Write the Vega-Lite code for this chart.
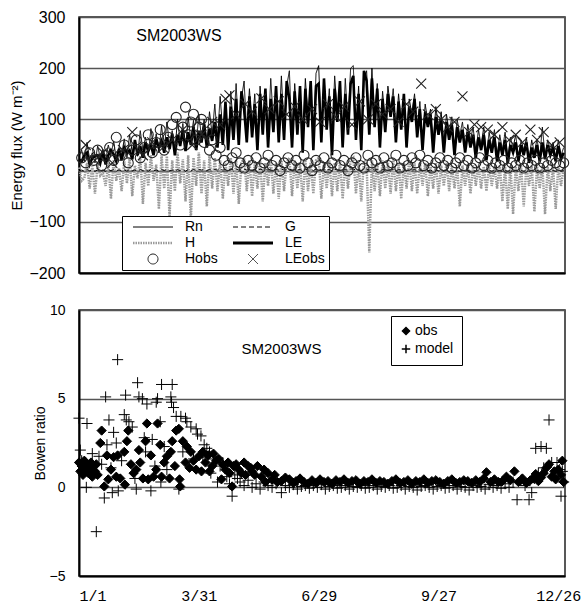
{
  "$schema": "https://vega.github.io/schema/vega-lite/v6.json",
  "padding": {"left": 9, "top": 8, "right": 5, "bottom": 5},
  "background": "white",
  "config": {
    "view": {"stroke": "#222", "strokeWidth": 1.5},
    "axis": {"labelFont": "Liberation Sans", "titleFont": "Liberation Sans", "labelColor": "black", "titleColor": "black", "domainColor": "black", "tickColor": "black", "titleFontWeight": "normal"},
    "legend": {"labelFont": "Liberation Sans", "labelColor": "black"}
  },
  "datasets": {
    "flux": [
      {"d":0,"Rn":28,"LE":22,"H":6,"G":0},{"d":2,"Rn":40,"LE":18,"H":-20,"G":1},{"d":4,"Rn":18,"LE":30,"H":-15,"G":-1},{"d":6,"Rn":55,"LE":35,"H":15,"G":2},
      {"d":8,"Rn":22,"LE":12,"H":-35,"G":0},{"d":10,"Rn":35,"LE":25,"H":8,"G":1},{"d":12,"Rn":15,"LE":28,"H":-45,"G":-1},{"d":14,"Rn":48,"LE":30,"H":12,"G":1},
      {"d":16,"Rn":25,"LE":15,"H":-10,"G":0},{"d":18,"Rn":42,"LE":38,"H":-5,"G":1},{"d":20,"Rn":20,"LE":12,"H":-30,"G":-1},{"d":22,"Rn":50,"LE":30,"H":15,"G":1},
      {"d":24,"Rn":30,"LE":40,"H":-55,"G":0},{"d":26,"Rn":58,"LE":32,"H":20,"G":2},{"d":28,"Rn":22,"LE":18,"H":-20,"G":-1},{"d":30,"Rn":45,"LE":42,"H":5,"G":1},
      {"d":32,"Rn":30,"LE":20,"H":-40,"G":0},{"d":34,"Rn":62,"LE":45,"H":18,"G":1},{"d":36,"Rn":25,"LE":35,"H":-25,"G":-1},{"d":38,"Rn":70,"LE":40,"H":25,"G":2},
      {"d":40,"Rn":35,"LE":22,"H":-50,"G":0},{"d":42,"Rn":55,"LE":60,"H":10,"G":1},{"d":44,"Rn":28,"LE":30,"H":-15,"G":-1},{"d":46,"Rn":78,"LE":48,"H":28,"G":2},
      {"d":48,"Rn":40,"LE":25,"H":-65,"G":0},{"d":50,"Rn":65,"LE":55,"H":15,"G":1},{"d":52,"Rn":30,"LE":38,"H":-30,"G":-1},{"d":54,"Rn":82,"LE":50,"H":30,"G":2},
      {"d":56,"Rn":45,"LE":30,"H":-20,"G":0},{"d":58,"Rn":72,"LE":62,"H":12,"G":1},{"d":60,"Rn":35,"LE":45,"H":-75,"G":-1},{"d":62,"Rn":88,"LE":58,"H":30,"G":2},
      {"d":64,"Rn":40,"LE":35,"H":-35,"G":0},{"d":66,"Rn":95,"LE":65,"H":28,"G":2},{"d":68,"Rn":50,"LE":42,"H":-90,"G":0},{"d":70,"Rn":78,"LE":72,"H":20,"G":1},
      {"d":72,"Rn":38,"LE":30,"H":-40,"G":-1},{"d":74,"Rn":100,"LE":70,"H":35,"G":2},{"d":76,"Rn":55,"LE":48,"H":-25,"G":0},{"d":78,"Rn":92,"LE":80,"H":22,"G":1},
      {"d":80,"Rn":45,"LE":38,"H":-60,"G":-1},{"d":82,"Rn":105,"LE":75,"H":30,"G":2},{"d":84,"Rn":60,"LE":50,"H":-95,"G":0},{"d":86,"Rn":98,"LE":85,"H":25,"G":2},
      {"d":88,"Rn":50,"LE":40,"H":-30,"G":0},{"d":90,"Rn":110,"LE":78,"H":35,"G":2},{"d":92,"Rn":65,"LE":55,"H":-45,"G":1},{"d":94,"Rn":100,"LE":90,"H":20,"G":2},
      {"d":96,"Rn":55,"LE":45,"H":-70,"G":0},{"d":98,"Rn":115,"LE":82,"H":30,"G":2},{"d":100,"Rn":70,"LE":58,"H":-35,"G":1},{"d":102,"Rn":130,"LE":95,"H":25,"G":2},
      {"d":104,"Rn":60,"LE":45,"H":-40,"G":1},{"d":106,"Rn":145,"LE":110,"H":20,"G":3},{"d":108,"Rn":75,"LE":50,"H":-55,"G":1},{"d":110,"Rn":120,"LE":135,"H":15,"G":2},
      {"d":112,"Rn":50,"LE":40,"H":-30,"G":0},{"d":114,"Rn":155,"LE":125,"H":25,"G":3},{"d":116,"Rn":80,"LE":60,"H":-45,"G":1},{"d":118,"Rn":170,"LE":140,"H":20,"G":3},
      {"d":120,"Rn":65,"LE":50,"H":-65,"G":1},{"d":122,"Rn":140,"LE":155,"H":15,"G":2},{"d":124,"Rn":175,"LE":120,"H":25,"G":3},{"d":126,"Rn":70,"LE":55,"H":-40,"G":1},
      {"d":128,"Rn":160,"LE":145,"H":20,"G":3},{"d":130,"Rn":85,"LE":65,"H":-50,"G":1},{"d":132,"Rn":150,"LE":130,"H":15,"G":2},{"d":134,"Rn":55,"LE":40,"H":-35,"G":0},
      {"d":136,"Rn":165,"LE":150,"H":20,"G":3},{"d":138,"Rn":90,"LE":70,"H":-60,"G":1},{"d":140,"Rn":145,"LE":160,"H":15,"G":2},{"d":142,"Rn":60,"LE":45,"H":-30,"G":1},
      {"d":144,"Rn":180,"LE":140,"H":25,"G":3},{"d":146,"Rn":95,"LE":75,"H":-45,"G":1},{"d":148,"Rn":155,"LE":165,"H":15,"G":2},{"d":150,"Rn":70,"LE":55,"H":-55,"G":1},
      {"d":152,"Rn":185,"LE":150,"H":20,"G":3},{"d":154,"Rn":80,"LE":60,"H":-40,"G":1},{"d":156,"Rn":165,"LE":175,"H":15,"G":2},{"d":158,"Rn":195,"LE":140,"H":25,"G":3},
      {"d":160,"Rn":60,"LE":45,"H":-50,"G":1},{"d":162,"Rn":170,"LE":155,"H":20,"G":2},{"d":164,"Rn":90,"LE":70,"H":-35,"G":1},{"d":166,"Rn":150,"LE":165,"H":15,"G":2},
      {"d":168,"Rn":45,"LE":35,"H":-60,"G":0},{"d":170,"Rn":180,"LE":160,"H":20,"G":3},{"d":172,"Rn":100,"LE":85,"H":-40,"G":1},{"d":174,"Rn":160,"LE":175,"H":15,"G":2},
      {"d":176,"Rn":55,"LE":40,"H":-45,"G":0},{"d":178,"Rn":190,"LE":165,"H":20,"G":3},{"d":180,"Rn":205,"LE":170,"H":25,"G":3},{"d":182,"Rn":70,"LE":55,"H":-55,"G":1},
      {"d":184,"Rn":175,"LE":180,"H":15,"G":2},{"d":186,"Rn":95,"LE":80,"H":-35,"G":1},{"d":188,"Rn":160,"LE":145,"H":20,"G":2},{"d":190,"Rn":40,"LE":30,"H":-50,"G":0},
      {"d":192,"Rn":185,"LE":160,"H":15,"G":3},{"d":194,"Rn":110,"LE":95,"H":-40,"G":1},{"d":196,"Rn":170,"LE":175,"H":20,"G":2},{"d":198,"Rn":60,"LE":45,"H":-55,"G":1},
      {"d":200,"Rn":180,"LE":150,"H":15,"G":2},{"d":202,"Rn":90,"LE":70,"H":-35,"G":1},{"d":204,"Rn":200,"LE":170,"H":20,"G":3},{"d":206,"Rn":205,"LE":185,"H":25,"G":3},
      {"d":208,"Rn":75,"LE":60,"H":-45,"G":1},{"d":210,"Rn":165,"LE":150,"H":15,"G":2},{"d":212,"Rn":50,"LE":40,"H":-60,"G":0},{"d":214,"Rn":180,"LE":195,"H":20,"G":2},
      {"d":216,"Rn":195,"LE":175,"H":15,"G":3},{"d":218,"Rn":85,"LE":70,"H":-160,"G":1},{"d":220,"Rn":200,"LE":180,"H":20,"G":3},{"d":222,"Rn":100,"LE":85,"H":-40,"G":1},
      {"d":224,"Rn":170,"LE":160,"H":15,"G":2},{"d":226,"Rn":60,"LE":45,"H":-50,"G":0},{"d":228,"Rn":155,"LE":140,"H":20,"G":2},{"d":230,"Rn":90,"LE":75,"H":-35,"G":1},
      {"d":232,"Rn":165,"LE":150,"H":15,"G":2},{"d":234,"Rn":120,"LE":105,"H":-45,"G":1},{"d":236,"Rn":160,"LE":145,"H":20,"G":2},{"d":238,"Rn":70,"LE":55,"H":-40,"G":0},
      {"d":240,"Rn":150,"LE":135,"H":15,"G":2},{"d":242,"Rn":95,"LE":80,"H":-55,"G":1},{"d":244,"Rn":145,"LE":150,"H":15,"G":2},{"d":246,"Rn":60,"LE":45,"H":-35,"G":0},
      {"d":248,"Rn":140,"LE":125,"H":20,"G":2},{"d":250,"Rn":110,"LE":95,"H":-40,"G":1},{"d":252,"Rn":150,"LE":140,"H":15,"G":2},{"d":254,"Rn":80,"LE":65,"H":-45,"G":0},
      {"d":256,"Rn":135,"LE":120,"H":15,"G":1},{"d":258,"Rn":55,"LE":40,"H":-30,"G":0},{"d":260,"Rn":130,"LE":115,"H":15,"G":1},{"d":262,"Rn":95,"LE":85,"H":-50,"G":0},
      {"d":264,"Rn":120,"LE":110,"H":10,"G":1},{"d":266,"Rn":50,"LE":35,"H":-35,"G":-1},{"d":268,"Rn":125,"LE":105,"H":15,"G":1},{"d":270,"Rn":85,"LE":70,"H":-45,"G":0},
      {"d":272,"Rn":115,"LE":100,"H":10,"G":1},{"d":274,"Rn":45,"LE":35,"H":-30,"G":-1},{"d":276,"Rn":110,"LE":95,"H":15,"G":1},{"d":278,"Rn":75,"LE":60,"H":-40,"G":0},
      {"d":280,"Rn":105,"LE":90,"H":10,"G":0},{"d":282,"Rn":40,"LE":30,"H":-35,"G":-1},{"d":284,"Rn":100,"LE":85,"H":10,"G":0},{"d":286,"Rn":70,"LE":55,"H":-70,"G":-1},
      {"d":288,"Rn":95,"LE":80,"H":10,"G":0},{"d":290,"Rn":45,"LE":35,"H":-30,"G":-1},{"d":292,"Rn":90,"LE":75,"H":10,"G":0},{"d":294,"Rn":60,"LE":45,"H":-45,"G":-1},
      {"d":296,"Rn":85,"LE":70,"H":10,"G":0},{"d":298,"Rn":35,"LE":25,"H":-30,"G":-1},{"d":300,"Rn":80,"LE":65,"H":10,"G":0},{"d":302,"Rn":50,"LE":40,"H":-35,"G":-1},
      {"d":304,"Rn":85,"LE":70,"H":8,"G":0},{"d":306,"Rn":30,"LE":20,"H":-40,"G":-1},{"d":308,"Rn":75,"LE":60,"H":10,"G":0},{"d":310,"Rn":45,"LE":35,"H":-30,"G":-1},
      {"d":312,"Rn":80,"LE":65,"H":8,"G":0},{"d":314,"Rn":25,"LE":18,"H":-35,"G":-1},{"d":316,"Rn":70,"LE":55,"H":10,"G":0},{"d":318,"Rn":40,"LE":30,"H":-60,"G":-1},
      {"d":320,"Rn":75,"LE":60,"H":8,"G":0},{"d":322,"Rn":20,"LE":15,"H":-75,"G":-1},{"d":324,"Rn":65,"LE":50,"H":10,"G":0},{"d":326,"Rn":45,"LE":35,"H":-85,"G":-1},
      {"d":328,"Rn":70,"LE":55,"H":8,"G":0},{"d":330,"Rn":25,"LE":18,"H":-40,"G":-1},{"d":332,"Rn":60,"LE":50,"H":10,"G":0},{"d":334,"Rn":40,"LE":30,"H":-70,"G":-1},
      {"d":336,"Rn":65,"LE":55,"H":8,"G":0},{"d":338,"Rn":20,"LE":15,"H":-30,"G":-1},{"d":340,"Rn":60,"LE":45,"H":10,"G":0},{"d":342,"Rn":35,"LE":25,"H":-80,"G":-1},
      {"d":344,"Rn":62,"LE":50,"H":8,"G":0},{"d":346,"Rn":25,"LE":18,"H":-35,"G":-1},{"d":348,"Rn":85,"LE":55,"H":10,"G":0},{"d":350,"Rn":30,"LE":22,"H":-85,"G":-1},
      {"d":352,"Rn":60,"LE":50,"H":8,"G":0},{"d":354,"Rn":40,"LE":30,"H":-40,"G":-1},{"d":356,"Rn":55,"LE":45,"H":8,"G":0},{"d":358,"Rn":25,"LE":18,"H":-75,"G":-1},
      {"d":360,"Rn":60,"LE":48,"H":10,"G":0},{"d":362,"Rn":30,"LE":22,"H":-30,"G":-1},{"d":364,"Rn":45,"LE":35,"H":5,"G":0}
    ],
    "fobs": [
      {"d":2,"v":25,"series":"Hobs"},{"d":5,"v":15,"series":"Hobs"},{"d":8,"v":35,"series":"Hobs"},{"d":11,"v":20,"series":"Hobs"},{"d":14,"v":40,"series":"Hobs"},{"d":17,"v":10,"series":"Hobs"},
      {"d":20,"v":30,"series":"Hobs"},{"d":23,"v":45,"series":"Hobs"},{"d":26,"v":20,"series":"Hobs"},{"d":28,"v":65,"series":"Hobs"},{"d":31,"v":30,"series":"Hobs"},{"d":34,"v":50,"series":"Hobs"},
      {"d":37,"v":15,"series":"Hobs"},{"d":40,"v":40,"series":"Hobs"},{"d":43,"v":60,"series":"Hobs"},{"d":46,"v":25,"series":"Hobs"},{"d":49,"v":45,"series":"Hobs"},{"d":52,"v":70,"series":"Hobs"},
      {"d":55,"v":35,"series":"Hobs"},{"d":58,"v":55,"series":"Hobs"},{"d":61,"v":80,"series":"Hobs"},{"d":64,"v":40,"series":"Hobs"},{"d":67,"v":65,"series":"Hobs"},{"d":70,"v":90,"series":"Hobs"},
      {"d":73,"v":104,"series":"Hobs"},{"d":76,"v":50,"series":"Hobs"},{"d":78,"v":85,"series":"Hobs"},{"d":80,"v":124,"series":"Hobs"},{"d":82,"v":70,"series":"Hobs"},{"d":84,"v":95,"series":"Hobs"},
      {"d":86,"v":110,"series":"Hobs"},{"d":88,"v":60,"series":"Hobs"},{"d":90,"v":85,"series":"Hobs"},{"d":92,"v":100,"series":"Hobs"},{"d":94,"v":55,"series":"Hobs"},{"d":96,"v":75,"series":"Hobs"},
      {"d":98,"v":40,"series":"Hobs"},{"d":100,"v":60,"series":"Hobs"},{"d":103,"v":30,"series":"Hobs"},{"d":106,"v":45,"series":"Hobs"},{"d":109,"v":20,"series":"Hobs"},{"d":112,"v":10,"series":"Hobs"},
      {"d":115,"v":25,"series":"Hobs"},{"d":118,"v":35,"series":"Hobs"},{"d":121,"v":15,"series":"Hobs"},{"d":124,"v":5,"series":"Hobs"},{"d":127,"v":20,"series":"Hobs"},{"d":130,"v":10,"series":"Hobs"},
      {"d":133,"v":25,"series":"Hobs"},{"d":136,"v":5,"series":"Hobs"},{"d":139,"v":15,"series":"Hobs"},{"d":142,"v":30,"series":"Hobs"},{"d":145,"v":10,"series":"Hobs"},{"d":148,"v":20,"series":"Hobs"},
      {"d":151,"v":0,"series":"Hobs"},{"d":154,"v":15,"series":"Hobs"},{"d":157,"v":25,"series":"Hobs"},{"d":160,"v":10,"series":"Hobs"},{"d":163,"v":20,"series":"Hobs"},{"d":166,"v":5,"series":"Hobs"},
      {"d":169,"v":30,"series":"Hobs"},{"d":172,"v":15,"series":"Hobs"},{"d":175,"v":0,"series":"Hobs"},{"d":178,"v":20,"series":"Hobs"},{"d":181,"v":10,"series":"Hobs"},{"d":184,"v":25,"series":"Hobs"},
      {"d":187,"v":5,"series":"Hobs"},{"d":190,"v":15,"series":"Hobs"},{"d":193,"v":30,"series":"Hobs"},{"d":196,"v":10,"series":"Hobs"},{"d":199,"v":20,"series":"Hobs"},{"d":202,"v":0,"series":"Hobs"},
      {"d":205,"v":15,"series":"Hobs"},{"d":208,"v":25,"series":"Hobs"},{"d":211,"v":10,"series":"Hobs"},{"d":214,"v":5,"series":"Hobs"},{"d":217,"v":30,"series":"Hobs"},{"d":220,"v":15,"series":"Hobs"},
      {"d":223,"v":20,"series":"Hobs"},{"d":226,"v":5,"series":"Hobs"},{"d":229,"v":25,"series":"Hobs"},{"d":232,"v":10,"series":"Hobs"},{"d":235,"v":15,"series":"Hobs"},{"d":238,"v":30,"series":"Hobs"},
      {"d":241,"v":5,"series":"Hobs"},{"d":244,"v":20,"series":"Hobs"},{"d":247,"v":10,"series":"Hobs"},{"d":250,"v":25,"series":"Hobs"},{"d":253,"v":15,"series":"Hobs"},{"d":256,"v":30,"series":"Hobs"},
      {"d":259,"v":10,"series":"Hobs"},{"d":262,"v":20,"series":"Hobs"},{"d":265,"v":5,"series":"Hobs"},{"d":268,"v":15,"series":"Hobs"},{"d":271,"v":25,"series":"Hobs"},{"d":274,"v":10,"series":"Hobs"},
      {"d":277,"v":20,"series":"Hobs"},{"d":280,"v":5,"series":"Hobs"},{"d":283,"v":15,"series":"Hobs"},{"d":286,"v":25,"series":"Hobs"},{"d":289,"v":10,"series":"Hobs"},{"d":292,"v":20,"series":"Hobs"},
      {"d":295,"v":5,"series":"Hobs"},{"d":298,"v":15,"series":"Hobs"},{"d":301,"v":25,"series":"Hobs"},{"d":304,"v":10,"series":"Hobs"},{"d":307,"v":20,"series":"Hobs"},{"d":310,"v":5,"series":"Hobs"},
      {"d":313,"v":15,"series":"Hobs"},{"d":316,"v":10,"series":"Hobs"},{"d":319,"v":20,"series":"Hobs"},{"d":322,"v":5,"series":"Hobs"},{"d":325,"v":15,"series":"Hobs"},{"d":328,"v":10,"series":"Hobs"},
      {"d":331,"v":20,"series":"Hobs"},{"d":334,"v":5,"series":"Hobs"},{"d":337,"v":15,"series":"Hobs"},{"d":340,"v":10,"series":"Hobs"},{"d":343,"v":20,"series":"Hobs"},{"d":346,"v":5,"series":"Hobs"},
      {"d":349,"v":15,"series":"Hobs"},{"d":352,"v":10,"series":"Hobs"},{"d":355,"v":20,"series":"Hobs"},{"d":358,"v":15,"series":"Hobs"},{"d":361,"v":10,"series":"Hobs"},{"d":364,"v":15,"series":"Hobs"},
      {"d":5,"v":50,"series":"LEobs"},{"d":12,"v":20,"series":"LEobs"},{"d":18,"v":35,"series":"LEobs"},{"d":25,"v":15,"series":"LEobs"},{"d":33,"v":40,"series":"LEobs"},{"d":40,"v":75,"series":"LEobs"},
      {"d":48,"v":30,"series":"LEobs"},{"d":55,"v":55,"series":"LEobs"},{"d":63,"v":45,"series":"LEobs"},{"d":70,"v":60,"series":"LEobs"},{"d":78,"v":80,"series":"LEobs"},{"d":85,"v":50,"series":"LEobs"},
      {"d":92,"v":70,"series":"LEobs"},{"d":100,"v":95,"series":"LEobs"},{"d":106,"v":90,"series":"LEobs"},{"d":110,"v":140,"series":"LEobs"},{"d":113,"v":147,"series":"LEobs"},{"d":118,"v":110,"series":"LEobs"},
      {"d":125,"v":130,"series":"LEobs"},{"d":130,"v":115,"series":"LEobs"},{"d":137,"v":141,"series":"LEobs"},{"d":143,"v":120,"series":"LEobs"},{"d":150,"v":135,"series":"LEobs"},{"d":156,"v":110,"series":"LEobs"},
      {"d":162,"v":125,"series":"LEobs"},{"d":168,"v":100,"series":"LEobs"},{"d":175,"v":120,"series":"LEobs"},{"d":181,"v":95,"series":"LEobs"},{"d":187,"v":130,"series":"LEobs"},{"d":193,"v":105,"series":"LEobs"},
      {"d":199,"v":125,"series":"LEobs"},{"d":205,"v":90,"series":"LEobs"},{"d":211,"v":135,"series":"LEobs"},{"d":217,"v":100,"series":"LEobs"},{"d":223,"v":130,"series":"LEobs"},{"d":228,"v":110,"series":"LEobs"},
      {"d":234,"v":120,"series":"LEobs"},{"d":240,"v":95,"series":"LEobs"},{"d":246,"v":130,"series":"LEobs"},{"d":251,"v":115,"series":"LEobs"},{"d":257,"v":170,"series":"LEobs"},{"d":262,"v":110,"series":"LEobs"},
      {"d":268,"v":120,"series":"LEobs"},{"d":272,"v":100,"series":"LEobs"},{"d":277,"v":85,"series":"LEobs"},{"d":282,"v":95,"series":"LEobs"},{"d":288,"v":145,"series":"LEobs"},{"d":293,"v":75,"series":"LEobs"},
      {"d":297,"v":90,"series":"LEobs"},{"d":302,"v":85,"series":"LEobs"},{"d":307,"v":80,"series":"LEobs"},{"d":312,"v":70,"series":"LEobs"},{"d":318,"v":85,"series":"LEobs"},{"d":323,"v":60,"series":"LEobs"},
      {"d":328,"v":70,"series":"LEobs"},{"d":333,"v":55,"series":"LEobs"},{"d":339,"v":80,"series":"LEobs"},{"d":344,"v":60,"series":"LEobs"},{"d":349,"v":75,"series":"LEobs"},{"d":355,"v":50,"series":"LEobs"},
      {"d":361,"v":55,"series":"LEobs"}
    ],
    "bowen": [
      {"d":0,"v":1.4,"t":"obs"},{"d":1,"v":0.9,"t":"obs"},{"d":2,"v":1.2,"t":"obs"},{"d":3,"v":0.7,"t":"obs"},{"d":4,"v":1.5,"t":"obs"},{"d":5,"v":1.0,"t":"obs"},
      {"d":6,"v":1.3,"t":"obs"},{"d":7,"v":0.8,"t":"obs"},{"d":8,"v":1.1,"t":"obs"},{"d":9,"v":1.4,"t":"obs"},{"d":10,"v":0.6,"t":"obs"},{"d":11,"v":1.2,"t":"obs"},
      {"d":12,"v":0.9,"t":"obs"},{"d":13,"v":1.3,"t":"obs"},{"d":14,"v":0.7,"t":"obs"},{"d":16,"v":2.5,"t":"obs"},{"d":17,"v":3.2,"t":"obs"},{"d":19,"v":0.05,"t":"obs"},
      {"d":21,"v":1.8,"t":"obs"},{"d":22,"v":0.45,"t":"obs"},{"d":24,"v":1.0,"t":"obs"},{"d":26,"v":1.7,"t":"obs"},{"d":28,"v":0.6,"t":"obs"},{"d":29,"v":1.8,"t":"obs"},
      {"d":31,"v":0.5,"t":"obs"},{"d":34,"v":2.0,"t":"obs"},{"d":34.5,"v":0.15,"t":"obs"},{"d":36,"v":2.6,"t":"obs"},{"d":37,"v":3.2,"t":"obs"},{"d":39,"v":1.3,"t":"obs"},
      {"d":41,"v":0.8,"t":"obs"},{"d":43,"v":1.0,"t":"obs"},{"d":45,"v":2.1,"t":"obs"},{"d":46,"v":1.4,"t":"obs"},{"d":48,"v":0.5,"t":"obs"},{"d":50,"v":2.6,"t":"obs"},
      {"d":51,"v":3.6,"t":"obs"},{"d":52,"v":0.45,"t":"obs"},{"d":54,"v":1.8,"t":"obs"},{"d":56,"v":0.6,"t":"obs"},{"d":58,"v":1.0,"t":"obs"},{"d":59,"v":3.6,"t":"obs"},
      {"d":61,"v":2.4,"t":"obs"},{"d":62,"v":0.6,"t":"obs"},{"d":64,"v":1.4,"t":"obs"},{"d":66,"v":1.75,"t":"obs"},{"d":68,"v":0.5,"t":"obs"},{"d":69,"v":2.0,"t":"obs"},
      {"d":70,"v":2.6,"t":"obs"},{"d":72,"v":1.2,"t":"obs"},{"d":73,"v":3.2,"t":"obs"},{"d":75,"v":3.3,"t":"obs"},{"d":75.5,"v":0.45,"t":"obs"},{"d":76,"v":0.05,"t":"obs"},
      {"d":78,"v":2.6,"t":"obs"},{"d":80,"v":1.4,"t":"obs"},{"d":81,"v":2.3,"t":"obs"},{"d":83,"v":1.1,"t":"obs"},{"d":84,"v":2.0,"t":"obs"},{"d":86,"v":1.5,"t":"obs"},
      {"d":88,"v":1.0,"t":"obs"},{"d":90,"v":1.75,"t":"obs"},{"d":92,"v":0.9,"t":"obs"},{"d":93,"v":2.0,"t":"obs"},{"d":95,"v":1.4,"t":"obs"},{"d":97,"v":1.8,"t":"obs"},
      {"d":98,"v":0.9,"t":"obs"},{"d":100,"v":1.2,"t":"obs"},{"d":101,"v":1.9,"t":"obs"},{"d":103,"v":1.5,"t":"obs"},{"d":105,"v":1.6,"t":"obs"},{"d":107,"v":0.45,"t":"obs"},
      {"d":108,"v":1.3,"t":"obs"},{"d":110,"v":1.0,"t":"obs"},{"d":112,"v":1.4,"t":"obs"},{"d":113,"v":0.8,"t":"obs"},{"d":115,"v":0.05,"t":"obs"},{"d":116,"v":1.2,"t":"obs"},
      {"d":118,"v":1.3,"t":"obs"},{"d":120,"v":1.0,"t":"obs"},{"d":122,"v":0.8,"t":"obs"},{"d":124,"v":1.4,"t":"obs"},{"d":125,"v":0.7,"t":"obs"},{"d":127,"v":1.2,"t":"obs"},
      {"d":129,"v":1.1,"t":"obs"},{"d":130,"v":0.9,"t":"obs"},{"d":132,"v":0.7,"t":"obs"},{"d":134,"v":1.2,"t":"obs"},{"d":137,"v":0.6,"t":"obs"},{"d":139,"v":1.0,"t":"obs"},
      {"d":140,"v":0.3,"t":"obs"},{"d":142,"v":0.8,"t":"obs"},{"d":145,"v":0.45,"t":"obs"},{"d":147,"v":0.7,"t":"obs"},{"d":149,"v":0.3,"t":"obs"},{"d":152,"v":0.35,"t":"obs"},
      {"d":155,"v":0.55,"t":"obs"},{"d":158,"v":0.45,"t":"obs"},{"d":161,"v":0.25,"t":"obs"},{"d":163,"v":0.35,"t":"obs"},{"d":166,"v":0.5,"t":"obs"},{"d":169,"v":0.3,"t":"obs"},
      {"d":172,"v":0.2,"t":"obs"},{"d":175,"v":0.4,"t":"obs"},{"d":178,"v":0.25,"t":"obs"},{"d":181,"v":0.45,"t":"obs"},{"d":184,"v":0.3,"t":"obs"},{"d":187,"v":0.35,"t":"obs"},
      {"d":190,"v":0.2,"t":"obs"},{"d":193,"v":0.4,"t":"obs"},{"d":196,"v":0.3,"t":"obs"},{"d":199,"v":0.45,"t":"obs"},{"d":202,"v":0.25,"t":"obs"},{"d":205,"v":0.35,"t":"obs"},
      {"d":208,"v":0.4,"t":"obs"},{"d":211,"v":0.2,"t":"obs"},{"d":214,"v":0.35,"t":"obs"},{"d":217,"v":0.3,"t":"obs"},{"d":220,"v":0.45,"t":"obs"},{"d":223,"v":0.25,"t":"obs"},
      {"d":226,"v":0.35,"t":"obs"},{"d":229,"v":0.3,"t":"obs"},{"d":232,"v":0.2,"t":"obs"},{"d":235,"v":0.35,"t":"obs"},{"d":238,"v":0.45,"t":"obs"},{"d":241,"v":0.25,"t":"obs"},
      {"d":244,"v":0.3,"t":"obs"},{"d":247,"v":0.4,"t":"obs"},{"d":250,"v":0.2,"t":"obs"},{"d":253,"v":0.35,"t":"obs"},{"d":256,"v":0.3,"t":"obs"},{"d":259,"v":0.45,"t":"obs"},
      {"d":262,"v":0.25,"t":"obs"},{"d":265,"v":0.35,"t":"obs"},{"d":268,"v":0.4,"t":"obs"},{"d":271,"v":0.3,"t":"obs"},{"d":274,"v":0.2,"t":"obs"},{"d":277,"v":0.35,"t":"obs"},
      {"d":280,"v":0.45,"t":"obs"},{"d":283,"v":0.25,"t":"obs"},{"d":286,"v":0.3,"t":"obs"},{"d":289,"v":0.4,"t":"obs"},{"d":292,"v":0.35,"t":"obs"},{"d":295,"v":0.25,"t":"obs"},
      {"d":298,"v":0.4,"t":"obs"},{"d":301,"v":0.3,"t":"obs"},{"d":304,"v":0.5,"t":"obs"},{"d":306,"v":0.85,"t":"obs"},{"d":309,"v":0.3,"t":"obs"},{"d":312,"v":0.45,"t":"obs"},
      {"d":315,"v":0.3,"t":"obs"},{"d":318,"v":0.35,"t":"obs"},{"d":321,"v":0.6,"t":"obs"},{"d":324,"v":0.4,"t":"obs"},{"d":327,"v":0.9,"t":"obs"},{"d":330,"v":0.3,"t":"obs"},
      {"d":333,"v":0.5,"t":"obs"},{"d":336,"v":0.25,"t":"obs"},{"d":339,"v":0.4,"t":"obs"},{"d":341,"v":0.5,"t":"obs"},{"d":343,"v":0.75,"t":"obs"},{"d":345,"v":0.35,"t":"obs"},
      {"d":347,"v":0.55,"t":"obs"},{"d":349,"v":0.8,"t":"obs"},{"d":351,"v":1.1,"t":"obs"},{"d":353,"v":1.3,"t":"obs"},{"d":355,"v":0.6,"t":"obs"},{"d":357,"v":0.9,"t":"obs"},
      {"d":358,"v":0.45,"t":"obs"},{"d":360,"v":1.0,"t":"obs"},{"d":362,"v":0.7,"t":"obs"},{"d":363,"v":1.5,"t":"obs"},{"d":364,"v":0.3,"t":"obs"},
      {"d":0,"v":3.9,"t":"model"},{"d":1,"v":2.1,"t":"model"},{"d":2,"v":1.5,"t":"model"},{"d":3,"v":0.8,"t":"model"},{"d":5,"v":1.4,"t":"model"},{"d":5.5,"v":0,"t":"model"},
      {"d":6,"v":3.6,"t":"model"},{"d":8,"v":1.0,"t":"model"},{"d":10,"v":1.9,"t":"model"},{"d":13,"v":-2.5,"t":"model"},{"d":15,"v":1.75,"t":"model"},{"d":17,"v":1.3,"t":"model"},
      {"d":19,"v":-0.6,"t":"model"},{"d":20,"v":5.1,"t":"model"},{"d":21,"v":2.4,"t":"model"},{"d":22.5,"v":3.8,"t":"model"},{"d":24,"v":1.1,"t":"model"},{"d":25,"v":-0.3,"t":"model"},
      {"d":26,"v":3.1,"t":"model"},{"d":28,"v":2.5,"t":"model"},{"d":29,"v":7.2,"t":"model"},{"d":29.5,"v":-0.2,"t":"model"},{"d":32,"v":1.5,"t":"model"},{"d":34,"v":4.1,"t":"model"},
      {"d":35,"v":5.2,"t":"model"},{"d":35.5,"v":3.8,"t":"model"},{"d":37.5,"v":3.7,"t":"model"},{"d":40,"v":3.4,"t":"model"},{"d":42,"v":0.5,"t":"model"},{"d":43,"v":-0.1,"t":"model"},
      {"d":44,"v":5.9,"t":"model"},{"d":45,"v":5.1,"t":"model"},{"d":47.6,"v":5.0,"t":"model"},{"d":49,"v":2.8,"t":"model"},{"d":50,"v":2.0,"t":"model"},{"d":51,"v":4.7,"t":"model"},
      {"d":54,"v":-0.2,"t":"model"},{"d":55,"v":2.7,"t":"model"},{"d":57,"v":1.2,"t":"model"},{"d":58,"v":4.8,"t":"model"},{"d":59,"v":5.0,"t":"model"},{"d":61,"v":3.7,"t":"model"},
      {"d":61.5,"v":0.3,"t":"model"},{"d":62,"v":5.8,"t":"model"},{"d":64,"v":2.3,"t":"model"},{"d":66,"v":1.0,"t":"model"},{"d":69,"v":5.1,"t":"model"},{"d":69.5,"v":4.8,"t":"model"},
      {"d":70,"v":5.8,"t":"model"},{"d":71,"v":4.5,"t":"model"},{"d":73,"v":4.0,"t":"model"},{"d":75,"v":-0.1,"t":"model"},{"d":76.5,"v":4.0,"t":"model"},{"d":78,"v":2.0,"t":"model"},
      {"d":80,"v":3.9,"t":"model"},{"d":81,"v":3.7,"t":"model"},{"d":84,"v":3.4,"t":"model"},{"d":86,"v":1.6,"t":"model"},{"d":88,"v":3.3,"t":"model"},{"d":89,"v":3.0,"t":"model"},
      {"d":91.6,"v":2.9,"t":"model"},{"d":93,"v":1.7,"t":"model"},{"d":94,"v":2.4,"t":"model"},{"d":96,"v":2.2,"t":"model"},{"d":98,"v":2.0,"t":"model"},{"d":99,"v":0.8,"t":"model"},
      {"d":101,"v":1.6,"t":"model"},{"d":104,"v":0.3,"t":"model"},{"d":106,"v":1.2,"t":"model"},{"d":108,"v":1.4,"t":"model"},{"d":111,"v":0.6,"t":"model"},{"d":113,"v":0.2,"t":"model"},
      {"d":115,"v":-0.5,"t":"model"},{"d":117,"v":0.7,"t":"model"},{"d":119,"v":0.5,"t":"model"},{"d":121,"v":0.3,"t":"model"},{"d":124,"v":0.1,"t":"model"},{"d":127,"v":0.4,"t":"model"},
      {"d":130,"v":0.0,"t":"model"},{"d":133,"v":0.2,"t":"model"},{"d":136,"v":-0.1,"t":"model"},{"d":139,"v":0.3,"t":"model"},{"d":142,"v":0.1,"t":"model"},{"d":145,"v":0.0,"t":"model"},
      {"d":148,"v":0.2,"t":"model"},{"d":152,"v":-0.3,"t":"model"},{"d":155,"v":0.1,"t":"model"},{"d":158,"v":0.0,"t":"model"},{"d":161,"v":0.15,"t":"model"},{"d":164,"v":-0.1,"t":"model"},
      {"d":167,"v":0.05,"t":"model"},{"d":170,"v":0.1,"t":"model"},{"d":173,"v":-0.05,"t":"model"},{"d":176,"v":0.1,"t":"model"},{"d":179,"v":0.0,"t":"model"},{"d":182,"v":0.15,"t":"model"},
      {"d":185,"v":-0.1,"t":"model"},{"d":188,"v":0.05,"t":"model"},{"d":191,"v":0.1,"t":"model"},{"d":194,"v":-0.05,"t":"model"},{"d":197,"v":0.0,"t":"model"},{"d":200,"v":0.1,"t":"model"},
      {"d":203,"v":-0.1,"t":"model"},{"d":206,"v":0.05,"t":"model"},{"d":209,"v":0.0,"t":"model"},{"d":212,"v":0.1,"t":"model"},{"d":215,"v":-0.05,"t":"model"},{"d":218,"v":0.0,"t":"model"},
      {"d":221,"v":0.1,"t":"model"},{"d":224,"v":-0.1,"t":"model"},{"d":227,"v":0.05,"t":"model"},{"d":230,"v":0.0,"t":"model"},{"d":233,"v":0.1,"t":"model"},{"d":236,"v":-0.05,"t":"model"},
      {"d":239,"v":0.0,"t":"model"},{"d":242,"v":0.1,"t":"model"},{"d":245,"v":-0.1,"t":"model"},{"d":248,"v":0.05,"t":"model"},{"d":251,"v":0.0,"t":"model"},{"d":254,"v":-0.15,"t":"model"},
      {"d":257,"v":0.05,"t":"model"},{"d":260,"v":0.1,"t":"model"},{"d":263,"v":0.0,"t":"model"},{"d":266,"v":-0.1,"t":"model"},{"d":269,"v":0.05,"t":"model"},{"d":272,"v":0.1,"t":"model"},
      {"d":275,"v":-0.05,"t":"model"},{"d":278,"v":0.0,"t":"model"},{"d":281,"v":0.1,"t":"model"},{"d":284,"v":-0.1,"t":"model"},{"d":287,"v":0.05,"t":"model"},{"d":290,"v":0.0,"t":"model"},
      {"d":293,"v":-0.15,"t":"model"},{"d":296,"v":0.1,"t":"model"},{"d":299,"v":0.0,"t":"model"},{"d":302,"v":0.05,"t":"model"},{"d":305,"v":-0.1,"t":"model"},{"d":308,"v":0.15,"t":"model"},
      {"d":311,"v":0.0,"t":"model"},{"d":314,"v":0.1,"t":"model"},{"d":317,"v":-0.05,"t":"model"},{"d":320,"v":0.2,"t":"model"},{"d":323,"v":0.0,"t":"model"},{"d":326,"v":0.3,"t":"model"},
      {"d":329,"v":-0.7,"t":"model"},{"d":332,"v":0.4,"t":"model"},{"d":335,"v":0.1,"t":"model"},{"d":338,"v":-0.7,"t":"model"},{"d":340,"v":-0.3,"t":"model"},{"d":342,"v":0.5,"t":"model"},
      {"d":343,"v":2.2,"t":"model"},{"d":345,"v":0.8,"t":"model"},{"d":347,"v":2.3,"t":"model"},{"d":347.5,"v":0.75,"t":"model"},{"d":349,"v":1.1,"t":"model"},{"d":351,"v":2.2,"t":"model"},
      {"d":353,"v":3.8,"t":"model"},{"d":355,"v":1.4,"t":"model"},{"d":357,"v":0.6,"t":"model"},{"d":359,"v":1.4,"t":"model"},{"d":361,"v":1.0,"t":"model"},{"d":362,"v":-0.5,"t":"model"},
      {"d":363,"v":0.9,"t":"model"},{"d":364,"v":0.3,"t":"model"}
    ]
  },
  "resolve": {
    "scale": {"color": "independent", "shape": "independent", "strokeDash": "independent", "fill": "independent"},
    "legend": {"color": "independent", "shape": "independent", "strokeDash": "independent", "fill": "independent"}
  },
  "spacing": 20,
  "vconcat": [
    {
      "width": 486,
      "height": 256,
      "encoding": {
        "x": {"field": "d", "type": "quantitative", "scale": {"domain": [0, 365], "nice": false, "zero": false},
          "axis": {"title": null, "values": [0,30,60,90,120,150,180,210,240,270,300,330,360], "labels": false, "tickSize": 0, "tickWidth": 1, "domainWidth": 2, "grid": false,
            "encode": {"ticks": {"update": {"y2": {"value": -5}}}}}},
        "y": {"field": "v", "type": "quantitative", "scale": {"domain": [-200, 300], "nice": false, "zero": false},
          "axis": {"title": "Energy flux  (W m⁻²)", "titleFontSize": 15, "titlePadding": 4, "values": [-200,-100,0,100,200,300], "labelFontSize": 16, "labelPadding": 14, "tickSize": 0, "domainWidth": 2, "grid": true, "gridColor": "#555", "gridWidth": 1.5}}
      },
      "layer": [
        {
          "data": {"name": "flux"},
          "transform": [{"fold": ["H"], "as": ["series", "v"]}],
          "mark": {"type": "line", "strokeWidth": 2.5},
          "encoding": {
            "color": {"field": "series", "type": "nominal",
              "scale": {"domain": ["Rn","G","H","LE","Hobs","LEobs"], "range": ["#000000","#000000","#9a9a9a","#000000","#222222","#222222"]},
              "legend": {"title": null, "orient": "none", "direction": "horizontal", "legendX": 43, "legendY": 199, "columns": 2, "columnPadding": 8, "rowPadding": 2, "labelFontSize": 14, "labelOffset": 25, "symbolOffset": 20, "strokeColor": "black", "fillColor": "white", "padding": 4, "symbolSize": 100, "symbolOpacity": 1,
                "encode": {"symbols": {"update": {"strokeWidth": {"signal": "datum.value === 'LE' ? 3 : datum.value === 'H' ? 2.5 : 1"}}}}}},
            "strokeDash": {"field": "series", "type": "nominal",
              "scale": {"domain": ["Rn","G","H","LE","Hobs","LEobs"], "range": [[1,0],[5,3],[1.5,1],[1,0],[1,0],[1,0]]},
              "legend": {"title": null, "orient": "none", "direction": "horizontal", "legendX": 43, "legendY": 199, "columns": 2, "columnPadding": 8, "rowPadding": 2, "labelFontSize": 14, "labelOffset": 25, "symbolOffset": 20, "strokeColor": "black", "fillColor": "white", "padding": 4, "symbolSize": 100, "symbolOpacity": 1,
                "encode": {"symbols": {"update": {"strokeWidth": {"signal": "datum.value === 'LE' ? 3 : datum.value === 'H' ? 2.5 : 1"}}}}}}
          }
        },
        {
          "data": {"name": "flux"},
          "transform": [{"fold": ["G"], "as": ["series", "v"]}],
          "mark": {"type": "line", "strokeWidth": 1},
          "encoding": {
            "color": {"field": "series", "type": "nominal"},
            "strokeDash": {"field": "series", "type": "nominal"}
          }
        },
        {
          "data": {"name": "flux"},
          "transform": [{"fold": ["Rn"], "as": ["series", "v"]}],
          "mark": {"type": "line", "strokeWidth": 1},
          "encoding": {
            "color": {"field": "series", "type": "nominal"},
            "strokeDash": {"field": "series", "type": "nominal"}
          }
        },
        {
          "data": {"name": "flux"},
          "transform": [{"fold": ["LE"], "as": ["series", "v"]}],
          "mark": {"type": "line", "strokeWidth": 2.6},
          "encoding": {
            "color": {"field": "series", "type": "nominal"},
            "strokeDash": {"field": "series", "type": "nominal"}
          }
        },
        {
          "data": {"name": "fobs"},
          "mark": {"type": "point", "filled": false, "size": 100, "strokeWidth": 1.1, "opacity": 1},
          "encoding": {
            "color": {"field": "series", "type": "nominal"},
            "shape": {"field": "series", "type": "nominal",
              "scale": {"domain": ["Rn","G","H","LE","Hobs","LEobs"], "range": ["M-4,0L4,0","M-4,0L4,0","M-4,0L4,0","M-4,0L4,0","M1,0A1,1 0 1,1 -1,0A1,1 0 1,1 1,0Z","M-1,-1L1,1M-1,1L1,-1"]},
              "legend": {"title": null, "orient": "none", "direction": "horizontal", "legendX": 43, "legendY": 199, "columns": 2, "columnPadding": 8, "rowPadding": 2, "labelFontSize": 14, "labelOffset": 25, "symbolOffset": 20, "strokeColor": "black", "fillColor": "white", "padding": 4, "symbolSize": 100, "symbolOpacity": 1,
                "encode": {"symbols": {"update": {"strokeWidth": {"signal": "datum.value === 'LE' ? 3 : datum.value === 'H' ? 2.5 : 1"}}}}}}
          }
        },
        {
          "data": {"values": [{"d": 43, "v": 262, "label": "SM2003WS"}]},
          "mark": {"type": "text", "align": "left", "baseline": "middle", "font": "Liberation Sans", "fontSize": 16, "color": "black"},
          "encoding": {"text": {"field": "label"}}
        }
      ]
    },
    {
      "width": 486,
      "height": 266,
      "encoding": {
        "x": {"field": "d", "type": "quantitative", "scale": {"domain": [0, 365], "nice": false, "zero": false},
          "axis": {"title": null, "values": [0,30,60,90,120,150,180,210,240,270,300,330,360], "labelExpr": "datum.value == 0 ? '1/1' : datum.value == 90 ? '3/31' : datum.value == 180 ? '6/29' : datum.value == 270 ? '9/27' : datum.value == 360 ? '12/26' : ''", "labelFont": "Liberation Mono", "labelFontSize": 15, "labelPadding": 12, "labelOverlap": false, "tickSize": 0, "tickWidth": 1, "domainWidth": 2, "grid": false,
            "encode": {"ticks": {"update": {"y2": {"value": -5}}}}}},
        "y": {"field": "v", "type": "quantitative", "scale": {"domain": [-5, 10], "nice": false, "zero": false},
          "axis": {"title": "Bowen ratio", "titleFontSize": 14, "titlePadding": 2, "values": [-5,0,5,10], "labelFontSize": 14, "labelPadding": 14, "tickSize": 0, "domainWidth": 2, "grid": true, "gridColor": "#555", "gridWidth": 1.5}}
      },
      "layer": [
        {
          "data": {"name": "bowen"},
          "mark": {"type": "point", "filled": false, "size": 85, "stroke": "black", "strokeWidth": 1, "opacity": 1},
          "encoding": {
            "shape": {"field": "t", "type": "nominal",
              "scale": {"domain": ["obs","model"], "range": ["diamond","M-1.2,0L1.2,0M0,-1.2L0,1.2"]},
              "legend": {"title": null, "orient": "none", "legendX": 312, "legendY": 6, "labelFontSize": 14, "labelOffset": 2, "rowPadding": 3, "strokeColor": "black", "fillColor": "white", "padding": 8, "symbolSize": 50, "symbolOpacity": 1,
                "encode": {"symbols": {"update": {"stroke": {"value": "black"}, "strokeWidth": {"value": 1}, "opacity": {"value": 1}}}}}},
            "fill": {"field": "t", "type": "nominal",
              "scale": {"domain": ["obs","model"], "range": ["black","transparent"]},
              "legend": {"title": null, "orient": "none", "legendX": 312, "legendY": 6, "labelFontSize": 14, "labelOffset": 2, "rowPadding": 3, "strokeColor": "black", "fillColor": "white", "padding": 8, "symbolSize": 50, "symbolOpacity": 1,
                "encode": {"symbols": {"update": {"stroke": {"value": "black"}, "strokeWidth": {"value": 1}, "opacity": {"value": 1}}}}}}
          }
        },
        {
          "data": {"values": [{"d": 122, "v": 7.8, "label": "SM2003WS"}]},
          "mark": {"type": "text", "align": "left", "baseline": "middle", "font": "Liberation Sans", "fontSize": 15, "color": "black"},
          "encoding": {"text": {"field": "label"}}
        }
      ]
    }
  ]
}
